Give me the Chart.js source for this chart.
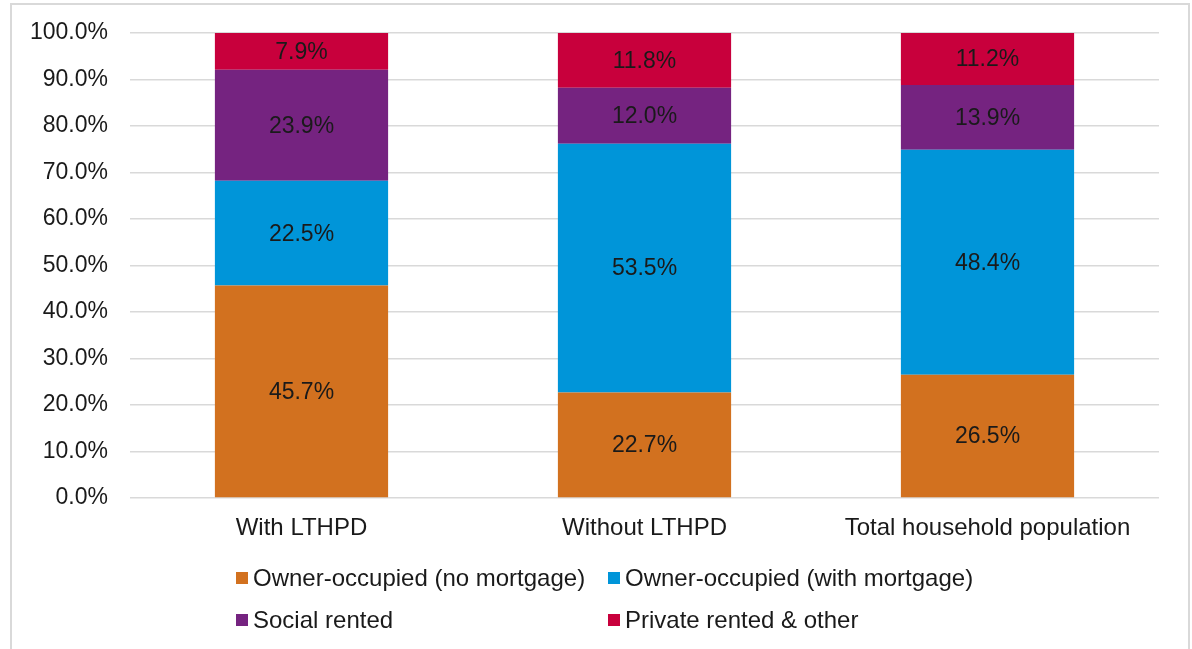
<!DOCTYPE html>
<html lang="en">
<head>
    <meta charset="UTF-8">
    <title>Housing tenure by LTHPD</title>
    <script src="https://cdn.jsdelivr.net/npm/chart.js"></script>
    <style>
        html, body {
            margin: 0;
            padding: 0;
            background: #fff;
            overflow: hidden;
        }
        .chart-box {
            position: relative;
            width: 1192px;
            height: 649px;
        }
        .frame {
            position: absolute;
            left: 10px;
            top: 3px;
            width: 1176px;
            height: 700px;
            border: 2px solid #d9d9d9;
            pointer-events: none;
        }
    </style>
</head>
<body>
    <div class="chart-box">
        <canvas id="tenureChart"></canvas>
        <div class="frame"></div>
    </div>

    <script>
        const categories = ["With LTHPD", "Without LTHPD", "Total household population"];
        const ownedOutright = [45.7, 22.7, 26.5];
        const ownedMortgage = [22.5, 53.5, 48.4];
        const socialRented = [23.9, 12.0, 13.9];
        const privateRented = [7.9, 11.8, 11.2];
        const yTicks = [0, 10, 20, 30, 40, 50, 60, 70, 80, 90, 100];

        const FONT = "'Liberation Sans', Arial, sans-serif";
        const TEXT = "#1a1a1a";

        // values written in the middle of every bar segment
        const segmentLabels = {
            id: "segmentLabels",
            afterDatasetsDraw(chart) {
                const ctx = chart.ctx;
                ctx.save();
                ctx.font = "23px " + FONT;
                ctx.fillStyle = TEXT;
                ctx.textAlign = "center";
                ctx.textBaseline = "middle";
                chart.data.datasets.forEach((ds, i) => {
                    chart.getDatasetMeta(i).data.forEach((bar, j) => {
                        const p = bar.getCenterPoint();
                        ctx.fillText(ds.data[j].toFixed(1) + "%", p.x, p.y + 1);
                    });
                });
                ctx.restore();
            }
        };

        // two-column legend like the original
        const gridLegend = {
            id: "gridLegend",
            afterDraw(chart) {
                const ctx = chart.ctx;
                const cols = [236, 608];
                const rows = [578, 620];
                ctx.save();
                ctx.font = "24px " + FONT;
                ctx.textBaseline = "middle";
                ctx.textAlign = "left";
                chart.data.datasets.forEach((ds, i) => {
                    const x = cols[i % 2];
                    const y = rows[Math.floor(i / 2)];
                    ctx.fillStyle = ds.backgroundColor;
                    ctx.fillRect(x, y - 6, 12, 12);
                    ctx.fillStyle = TEXT;
                    ctx.fillText(ds.label, x + 17, y + 1);
                });
                ctx.restore();
            }
        };

        const ctx = document.getElementById("tenureChart").getContext("2d");
        new Chart(ctx, {
            type: "bar",
            data: {
                labels: categories,
                datasets: [
                    { label: "Owner-occupied (no mortgage)", data: ownedOutright, backgroundColor: "#D2711F" },
                    { label: "Owner-occupied (with mortgage)", data: ownedMortgage, backgroundColor: "#0095D9" },
                    { label: "Social rented", data: socialRented, backgroundColor: "#752380" },
                    { label: "Private rented & other", data: privateRented, backgroundColor: "#C8003C" }
                ]
            },
            options: {
                responsive: true,
                maintainAspectRatio: false,
                animation: false,
                layout: { padding: { top: 33, right: 33, bottom: 100, left: 0 } },
                datasets: { bar: { categoryPercentage: 1, barPercentage: 0.505 } },
                plugins: {
                    legend: { display: false },
                    tooltip: { enabled: false }
                },
                scales: {
                    x: {
                        stacked: true,
                        grid: { display: false },
                        border: { display: false },
                        ticks: { color: TEXT, font: { family: FONT, size: 24 }, padding: 8, maxRotation: 0 },
                        afterFit(scale) { scale.height = 51; }
                    },
                    y: {
                        stacked: true,
                        min: 0,
                        max: 100,
                        grid: { color: "#d9d9d9", lineWidth: 1.5, drawTicks: false },
                        border: { display: false },
                        afterBuildTicks(scale) { scale.ticks = yTicks.map(v => ({ value: v })); },
                        ticks: {
                            color: TEXT,
                            font: { family: FONT, size: 23 },
                            padding: 22,
                            callback: v => v.toFixed(1) + "%"
                        },
                        afterFit(scale) {
                            scale.width = 130;
                            scale.paddingTop = 0;
                            scale.paddingBottom = 0;
                        }
                    }
                }
            },
            plugins: [segmentLabels, gridLegend]
        });
    </script>
</body>
</html>
